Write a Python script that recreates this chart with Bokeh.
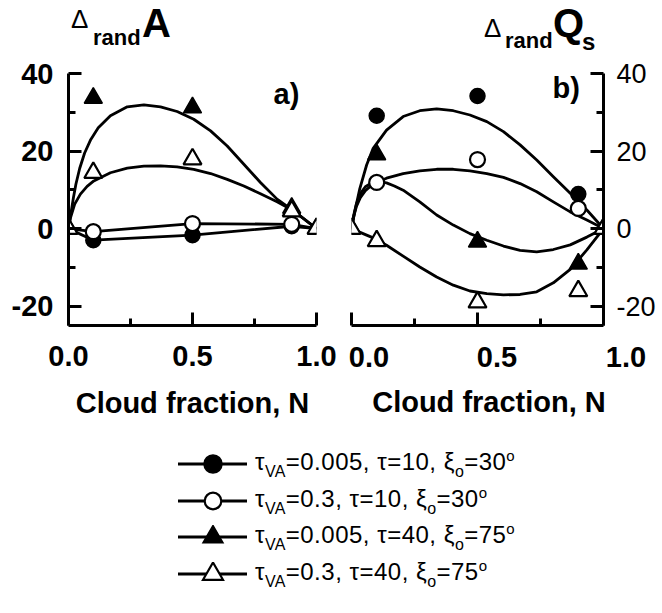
from bokeh.plotting import figure
from bokeh.models import Range1d, FixedTicker, PrintfTickFormatter, Label, Div
from bokeh.layouts import column, row
from bokeh.embed import file_html
from bokeh.resources import INLINE

# ---------------- data ----------------
N = [0.0, 0.1, 0.5, 0.9, 1.0]
x_ticks = [0.0, 0.5, 1.0]
x_minor = [0.25, 0.75]
x_tick_labels = ["0.0", "0.5", "1.0"]
y_ticks = [-20, 0, 20, 40]
y_minor = [-10, 10, 30]
y_axis_span = (-25, 40)
x_title = "Cloud fraction, N"

# panel a) Delta_rand A
A_fcirc = [0, -3.0, -1.7, 0.6, 0]
A_ocirc = [0, -0.8, 1.3, 1.1, 0]
A_ftri = [0, 33.7, 31.2, 5.3, 0]
A_otri = [0, 14.4, 17.9, 4.5, 0]

# panel b) Delta_rand Qs
Q_fcirc = [0, 29.1, 34.2, 8.9, 0]
Q_ocirc = [0, 11.9, 17.8, 5.2, 0]
Q_ftri = [0, 19.1, -3.4, -9.1, 0]
Q_otri = [0, -3.2, -19.0, -16.1, 0]

# smooth curves
cA_ftri_N = [0, 0.01, 0.02, 0.03, 0.045, 0.065, 0.09, 0.12, 0.169, 0.237, 0.304, 0.371, 0.438, 0.505, 0.573, 0.64, 0.707, 0.774, 0.841, 0.909, 1.0]
cA_ftri = [0, 4.0, 8.0, 11.5, 15.5, 19.5, 23.0, 26.0, 29.1, 31.4, 31.9, 31.4, 30.2, 28.2, 25.2, 21.3, 16.6, 11.9, 7.6, 4.5, 0]
cA_otri_N = [0, 0.008, 0.025, 0.048, 0.075, 0.102, 0.169, 0.237, 0.304, 0.371, 0.438, 0.505, 0.573, 0.64, 0.707, 0.774, 0.841, 0.909, 1.0]
cA_otri = [0, 2.8, 6.3, 8.9, 10.9, 12.3, 14.4, 15.6, 16.1, 16.2, 15.9, 15.3, 14.2, 12.7, 11.0, 9.0, 6.9, 4.5, 0]

cQ_fcirc_N = [0, 0.015, 0.033, 0.06, 0.086, 0.139, 0.205, 0.271, 0.338, 0.404, 0.47, 0.537, 0.603, 0.669, 0.735, 0.801, 0.868, 0.934, 1.0]
cQ_fcirc = [0, 5.0, 10.3, 16.4, 20.7, 25.4, 28.9, 30.4, 30.9, 30.4, 29.3, 27.6, 25.0, 21.6, 17.7, 13.4, 9.1, 4.8, 0]
cQ_ocirc_N = [0, 0.01, 0.02, 0.035, 0.055, 0.086, 0.139, 0.205, 0.271, 0.338, 0.404, 0.47, 0.537, 0.603, 0.669, 0.735, 0.801, 0.868, 0.934, 1.0]
cQ_ocirc = [0, 3.5, 5.8, 8.0, 9.8, 11.5, 13.0, 14.2, 14.9, 15.3, 15.3, 14.9, 14.2, 13.2, 11.6, 9.5, 6.9, 4.3, 2.2, 0]
cQ_ftri_N = [0, 0.01, 0.02, 0.035, 0.055, 0.08, 0.11, 0.139, 0.17, 0.205, 0.271, 0.338, 0.404, 0.47, 0.537, 0.603, 0.669, 0.735, 0.801, 0.868, 0.934, 1.0]
cQ_ftri = [0, 3.8, 6.5, 9.0, 10.8, 11.8, 12.1, 11.8, 11.0, 9.9, 6.9, 3.5, 0.9, -1.3, -3.0, -4.5, -5.6, -6.0, -5.4, -4.2, -2.2, 0]
cQ_otri_N = [0, 0.046, 0.086, 0.139, 0.205, 0.271, 0.338, 0.404, 0.47, 0.537, 0.603, 0.669, 0.735, 0.801, 0.868, 0.934, 1.0]
cQ_otri = [0, -1.3, -2.4, -4.3, -7.1, -9.9, -12.5, -14.6, -16.1, -16.8, -17.1, -17.0, -16.3, -14.0, -10.5, -5.5, 0]

legend_labels = [
    ("fcirc", "&tau;<sub>VA</sub>=0.005, &tau;=10, &xi;<sub>o</sub>=30<sup>o</sup>"),
    ("ocirc", "&tau;<sub>VA</sub>=0.3, &tau;=10, &xi;<sub>o</sub>=30<sup>o</sup>"),
    ("ftri", "&tau;<sub>VA</sub>=0.005, &tau;=40, &xi;<sub>o</sub>=75<sup>o</sup>"),
    ("otri", "&tau;<sub>VA</sub>=0.3, &tau;=40, &xi;<sub>o</sub>=75<sup>o</sup>"),
]

FONT = "Liberation Sans"
TITLE_H = 52
TOP = 9
FRAME_H = 264
Y_END = 43.1                               # frame reaches a little above the 40 tick
BOTTOM_A = 108
FIG_H = TOP + FRAME_H + BOTTOM_A          # 381
PB_BOTTOM = 10
PB_H = TOP + FRAME_H + PB_BOTTOM          # 283
LEG_TOP = TITLE_H + FIG_H                  # 433


def make_fig(width, height, y_loc, min_left, min_right, min_bottom):
    p = figure(width=width, height=height, x_range=Range1d(0, 1), y_range=Range1d(-25, Y_END),
               output_backend="svg", toolbar_location=None, title=None,
               y_axis_location=y_loc, min_border_left=min_left, min_border_right=min_right,
               min_border_top=TOP, min_border_bottom=min_bottom)
    p.outline_line_color = None
    p.grid.visible = False
    for ax in p.axis:
        ax.axis_line_width = 3
        ax.major_tick_line_width = 3
        ax.minor_tick_line_width = 3
        ax.major_tick_in = 13
        ax.major_tick_out = 0
        ax.minor_tick_in = 7
        ax.minor_tick_out = 0
        ax.major_label_text_font = FONT
        ax.major_label_text_font_size = "29px"
        ax.major_label_text_color = "black"
        ax.axis_line_color = "black"
        ax.major_tick_line_color = "black"
        ax.minor_tick_line_color = "black"
    p.xaxis.ticker = FixedTicker(ticks=x_ticks, minor_ticks=x_minor)
    p.xaxis.formatter = PrintfTickFormatter(format="%.1f")
    p.xaxis.major_label_text_font_style = "bold"
    p.yaxis.ticker = FixedTicker(ticks=y_ticks, minor_ticks=y_minor)
    p.yaxis.formatter = PrintfTickFormatter(format="%d")
    p.yaxis.bounds = y_axis_span
    return p


def draw_markers(p, xs, ys, kind):
    if kind == "fcirc":
        p.scatter(xs, ys, marker="circle", size=15, fill_color="black", line_color="black", line_width=1.5)
    elif kind == "ocirc":
        p.scatter(xs, ys, marker="circle", size=15, fill_color="white", line_color="black", line_width=2.2)
    elif kind == "ftri":
        p.scatter(xs, ys, marker="triangle", size=18, fill_color="black", line_color="black", line_width=1.5)
    else:
        p.scatter(xs, ys, marker="triangle", size=18, fill_color="white", line_color="black", line_width=2.2)


def in_label(p, x, y, dx, dy, s):
    p.add_layout(Label(x=x, y=y, x_offset=dx, y_offset=dy, text=s, text_font=FONT,
                       text_font_size="29px", text_font_style="bold", text_color="black",
                       text_align="left", text_baseline="alphabetic"))


def span(left, baseline, size, content, bold=False, extra=""):
    lh = 0.8 * size
    top = baseline - lh / 2 - 0.3465 * size
    w = "bold" if bold else "normal"
    return ('<div style="position:absolute;left:%.1fpx;top:%.1fpx;font-size:%dpx;line-height:%.1fpx;'
            'font-weight:%s;white-space:nowrap;%s">%s</div>' % (left, top, size, lh, w, extra, content))


def centered(cx, baseline, size, content, bold=False):
    return span(cx - 150, baseline, size, content, bold, "width:300px;text-align:center;")


def box(width, height, inner):
    return ('<div style="position:relative;width:%dpx;height:%dpx;font-family:\'Liberation Sans\';'
            'color:black;overflow:visible;margin:0;padding:0;">%s</div>' % (width, height, inner))


LW = 2.8

# ---------------- panel a ----------------
pa = make_fig(338, FIG_H, "left", 68, 22, BOTTOM_A)
pa.yaxis.major_label_text_font_style = "bold"
pa.yaxis.major_label_standoff = 15
pa.xaxis.axis_label = x_title
pa.xaxis.axis_label_text_font = FONT
pa.xaxis.axis_label_text_font_size = "29px"
pa.xaxis.axis_label_text_font_style = "bold"
pa.xaxis.axis_label_text_color = "black"
pa.xaxis.major_label_standoff = 20
pa.xaxis.axis_label_standoff = 18
pa.line(N, A_fcirc, line_width=LW, color="black")
pa.line(N, A_ocirc, line_width=LW, color="black")
pa.line(cA_ftri_N, cA_ftri, line_width=LW, color="black", line_join="round")
pa.line(cA_otri_N, cA_otri, line_width=LW, color="black", line_join="round")
draw_markers(pa, N[1:4], A_fcirc[1:4], "fcirc")
draw_markers(pa, N[1:4], A_ocirc[1:4], "ocirc")
draw_markers(pa, N, A_ftri, "ftri")
draw_markers(pa, N, A_otri, "otri")
in_label(pa, 0, 40, 205, -20, "a)")

# ---------------- panel b ----------------
pb = make_fig(323, PB_H, "right", 13, 58, PB_BOTTOM)
pb.yaxis.major_label_text_font_style = "normal"
pb.yaxis.major_label_text_font_size = "27px"
pb.yaxis.major_label_standoff = 13
pb.xaxis.major_label_text_color = None
pb.xaxis.major_label_standoff = 0
pb.line(cQ_fcirc_N, cQ_fcirc, line_width=LW, color="black", line_join="round")
pb.line(cQ_ocirc_N, cQ_ocirc, line_width=LW, color="black", line_join="round")
pb.line(cQ_ftri_N, cQ_ftri, line_width=LW, color="black", line_join="round")
pb.line(cQ_otri_N, cQ_otri, line_width=LW, color="black", line_join="round")
draw_markers(pb, N[1:4], Q_fcirc[1:4], "fcirc")
draw_markers(pb, N[1:4], Q_ocirc[1:4], "ocirc")
draw_markers(pb, N, Q_ftri, "ftri")
draw_markers(pb, N, Q_otri, "otri")
in_label(pb, 1, 40, -51, -14, "b)")

# panel b tick labels and axis title (shifted like in the original figure)
pb_bottom_top = TITLE_H + PB_H
pb_bottom_h = FIG_H - PB_H
bparts = []
for cx, s in zip([31, 159, 288], x_tick_labels):
    bparts.append(centered(cx, 368 - pb_bottom_top, 29, s, True))
bparts.append(centered(151, 413 - pb_bottom_top, 29, x_title, True))
pb_bottom = Div(text=box(323, pb_bottom_h, "".join(bparts)), width=323, height=pb_bottom_h, margin=0)

# ---------------- titles ----------------
tparts = [
    span(71, 28, 26, "&Delta;"),
    span(93, 45, 22, "rand", True),
    span(142, 37, 40, "A", True),
    span(484, 37, 26, "&Delta;"),
    span(505, 48, 22, "rand", True),
    span(553, 37, 40, "Q", True),
    span(582, 50, 24, "s", True),
]
titles = Div(text=box(661, TITLE_H, "".join(tparts)), width=661, height=TITLE_H, margin=0)

# ---------------- legend ----------------
def symbol_svg(kind):
    line = '<line x1="2" y1="12" x2="71" y2="12" stroke="black" stroke-width="3"/>'
    if kind == "fcirc":
        m = '<circle cx="37" cy="12" r="9" fill="black" stroke="black" stroke-width="1.5"/>'
    elif kind == "ocirc":
        m = '<circle cx="37" cy="12" r="8.3" fill="white" stroke="black" stroke-width="2.2"/>'
    elif kind == "ftri":
        m = '<polygon points="27,17.8 47,17.8 37,0.5" fill="black" stroke="black" stroke-width="1.5"/>'
    else:
        m = '<polygon points="27,17.8 47,17.8 37,0.5" fill="white" stroke="black" stroke-width="2.2"/>'
    return '<svg width="74" height="24" style="display:block">' + line + m + '</svg>'


baselines = [470, 507, 543, 580]
LEG_H = 176
lparts = ['<style>sub{font-size:16px;line-height:0;vertical-align:-7px;letter-spacing:0.3px;}'
          'sup{font-size:15px;line-height:0;vertical-align:9px;letter-spacing:0;}</style>']
for (kind, label), b in zip(legend_labels, baselines):
    rb = b - LEG_TOP
    lparts.append('<div style="position:absolute;left:176px;top:%dpx;">%s</div>' % (rb - 18, symbol_svg(kind)))
    lparts.append(span(255, rb, 24, label, False, "letter-spacing:0.5px;"))
leg = Div(text=box(661, LEG_H, "".join(lparts)), width=661, height=LEG_H, margin=0)

layout = column(titles, row(pa, column(pb, pb_bottom, spacing=0), spacing=0), leg, spacing=0)
open("out.html", "w").write(file_html(layout, INLINE))
